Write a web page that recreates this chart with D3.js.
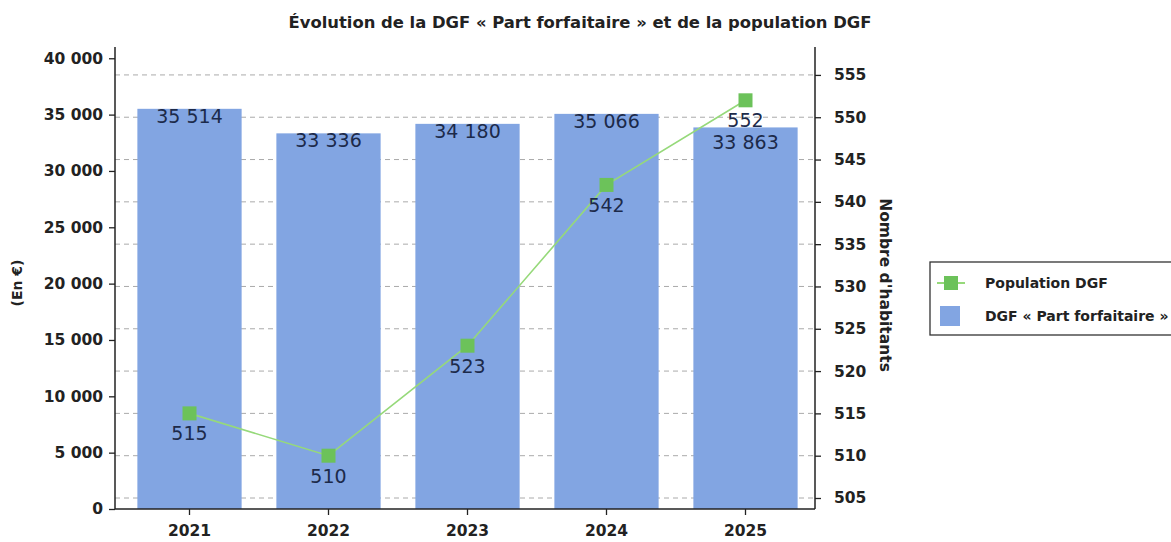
<!DOCTYPE html>
<html>
<head>
<meta charset="utf-8">
<script src="https://cdn.jsdelivr.net/npm/d3@7"></script>
<style>
  body { margin: 0; background: #fff; }
  text { font-family: "DejaVu Sans", Verdana, sans-serif; }
</style>
</head>
<body>
<div id="chart"></div>
<script>
// data
var years = ['2021', '2022', '2023', '2024', '2025'];
var dgfValues = [35514, 33336, 34180, 35066, 33863];
var popValues = [515, 510, 523, 542, 552];
var leftTicks = [0, 5000, 10000, 15000, 20000, 25000, 30000, 35000, 40000];
var rightTicks = [505, 510, 515, 520, 525, 530, 535, 540, 545, 550, 555];

var title = 'Évolution de la DGF « Part forfaitaire » et de la population DGF';
var leftTitle = '(En €)';
var rightTitle = "Nombre d'habitants";
var legendLabels = ['Population DGF', 'DGF « Part forfaitaire »'];

var width = 1171,
    height = 542,
    plot = { left: 115, right: 815, top: 47, bottom: 509 },
    barColor = '#82a5e2',
    lineColor = '#96d97a',
    markerColor = '#6cc25a',
    labelColor = '#1c2a4a';

var fr = d3.formatLocale({ decimal: ',', thousands: ' ', grouping: [3], currency: ['', ' €'] });
var fmt = fr.format(',d');

var svg = d3.select('#chart').append('svg')
    .attr('width', width)
    .attr('height', height);

// scales
var x = d3.scaleBand()
    .domain(years)
    .range([plot.left + 5, plot.right])
    .paddingInner(0.25)
    .paddingOuter(0.125);

var yLeft = d3.scaleLinear()
    .domain([0, 41000])
    .range([plot.bottom, plot.top]);

var yRight = d3.scaleLinear()
    .domain([503.7, 558.3])
    .range([plot.bottom, plot.top]);

function cx(i) { return x(years[i]) + x.bandwidth() / 2; }

// title
svg.append('text')
    .attr('x', 580)
    .attr('y', 28)
    .attr('text-anchor', 'middle')
    .style('font-size', '16.4px')
    .style('font-weight', 'bold')
    .style('fill', '#222')
    .text(title);

// dashed gridlines (follow the right axis)
svg.append('g')
    .selectAll('line')
    .data(rightTicks)
    .enter().append('line')
    .attr('x1', plot.left)
    .attr('x2', plot.right)
    .attr('y1', function(d) { return yRight(d); })
    .attr('y2', function(d) { return yRight(d); })
    .attr('stroke', '#aaa')
    .attr('stroke-width', 1)
    .attr('stroke-dasharray', '5,4');

// bars
svg.append('g')
    .selectAll('rect')
    .data(dgfValues)
    .enter().append('rect')
    .attr('x', function(d, i) { return x(years[i]); })
    .attr('width', x.bandwidth())
    .attr('y', function(d) { return yLeft(d); })
    .attr('height', function(d) { return plot.bottom - yLeft(d); })
    .attr('fill', barColor);

// left axis
var leftAxis = svg.append('g')
    .attr('transform', 'translate(' + plot.left + ',0)')
    .call(d3.axisLeft(yLeft).tickValues(leftTicks).tickFormat(fmt).tickSize(6).tickPadding(6));

// right axis
var rightAxis = svg.append('g')
    .attr('transform', 'translate(' + plot.right + ',0)')
    .call(d3.axisRight(yRight).tickValues(rightTicks).tickSize(6).tickPadding(13));

// x axis
var xAxis = svg.append('g')
    .attr('transform', 'translate(0,' + plot.bottom + ')')
    .call(d3.axisBottom(x).tickSize(6).tickPadding(10));

[leftAxis, rightAxis, xAxis].forEach(function(g) {
    g.select('.domain').remove();
    g.selectAll('line').attr('stroke', '#222').attr('stroke-width', 1.3);
    g.selectAll('text')
        .style('font-family', '"DejaVu Sans", Verdana, sans-serif')
        .style('font-size', '15.5px')
        .style('font-weight', 'bold')
        .style('fill', '#222');
});

// axis lines
svg.append('line')
    .attr('x1', plot.left).attr('x2', plot.left)
    .attr('y1', plot.top).attr('y2', plot.bottom)
    .attr('stroke', '#222').attr('stroke-width', 1.5);
svg.append('line')
    .attr('x1', plot.right).attr('x2', plot.right)
    .attr('y1', plot.top).attr('y2', plot.bottom)
    .attr('stroke', '#222').attr('stroke-width', 1.5);
svg.append('line')
    .attr('x1', plot.left).attr('x2', plot.right)
    .attr('y1', plot.bottom).attr('y2', plot.bottom)
    .attr('stroke', '#222').attr('stroke-width', 1.5);

// axis titles
svg.append('text')
    .attr('transform', 'translate(22,283) rotate(-90)')
    .attr('text-anchor', 'middle')
    .style('font-size', '14px')
    .style('font-weight', 'bold')
    .style('fill', '#222')
    .text(leftTitle);

svg.append('text')
    .attr('transform', 'translate(880,285) rotate(90)')
    .attr('text-anchor', 'middle')
    .style('font-size', '15.5px')
    .style('font-weight', 'bold')
    .style('fill', '#222')
    .text(rightTitle);

// label positions: population label under its marker,
// bar label at the bar top, pushed down if it runs into the population label
var popLabelY = popValues.map(function(d) { return yRight(d) + 27; });
var barLabelY = dgfValues.map(function(d, i) {
    var y = yLeft(d) + 14;
    if (Math.abs(y - popLabelY[i]) < 22) y = popLabelY[i] + 22;
    return y;
});

// bar value labels
svg.append('g')
    .selectAll('text')
    .data(dgfValues)
    .enter().append('text')
    .attr('x', function(d, i) { return cx(i); })
    .attr('y', function(d, i) { return barLabelY[i]; })
    .attr('text-anchor', 'middle')
    .style('font-size', '19px')
    .style('fill', labelColor)
    .text(function(d) { return fmt(d); });

// population line
var line = d3.line()
    .x(function(d, i) { return cx(i); })
    .y(function(d) { return yRight(d); });

svg.append('path')
    .datum(popValues)
    .attr('d', line)
    .attr('fill', 'none')
    .attr('stroke', lineColor)
    .attr('stroke-width', 1.6);

svg.append('g')
    .selectAll('rect')
    .data(popValues)
    .enter().append('rect')
    .attr('x', function(d, i) { return cx(i) - 7; })
    .attr('y', function(d) { return yRight(d) - 7; })
    .attr('width', 14)
    .attr('height', 14)
    .attr('fill', markerColor);

svg.append('g')
    .selectAll('text')
    .data(popValues)
    .enter().append('text')
    .attr('x', function(d, i) { return cx(i); })
    .attr('y', function(d, i) { return popLabelY[i]; })
    .attr('text-anchor', 'middle')
    .style('font-size', '19px')
    .style('fill', labelColor)
    .text(function(d) { return d; });

// legend
var legend = svg.append('g').attr('transform', 'translate(930,262)');
legend.append('rect')
    .attr('width', 270)
    .attr('height', 73)
    .attr('fill', '#fff')
    .attr('stroke', '#333')
    .attr('stroke-width', 1.3);
legend.append('line')
    .attr('x1', 7).attr('x2', 35)
    .attr('y1', 21).attr('y2', 21)
    .attr('stroke', lineColor).attr('stroke-width', 2);
legend.append('rect')
    .attr('x', 14).attr('y', 14)
    .attr('width', 14).attr('height', 14)
    .attr('fill', markerColor);
legend.append('rect')
    .attr('x', 10).attr('y', 44)
    .attr('width', 20).attr('height', 20)
    .attr('fill', barColor);
legend.selectAll('text.lbl')
    .data(legendLabels)
    .enter().append('text')
    .attr('class', 'lbl')
    .attr('x', 55)
    .attr('y', function(d, i) { return 26 + i * 33; })
    .style('font-size', '14px')
    .style('font-weight', 'bold')
    .style('fill', '#222')
    .text(function(d) { return d; });
</script>
</body>
</html>
